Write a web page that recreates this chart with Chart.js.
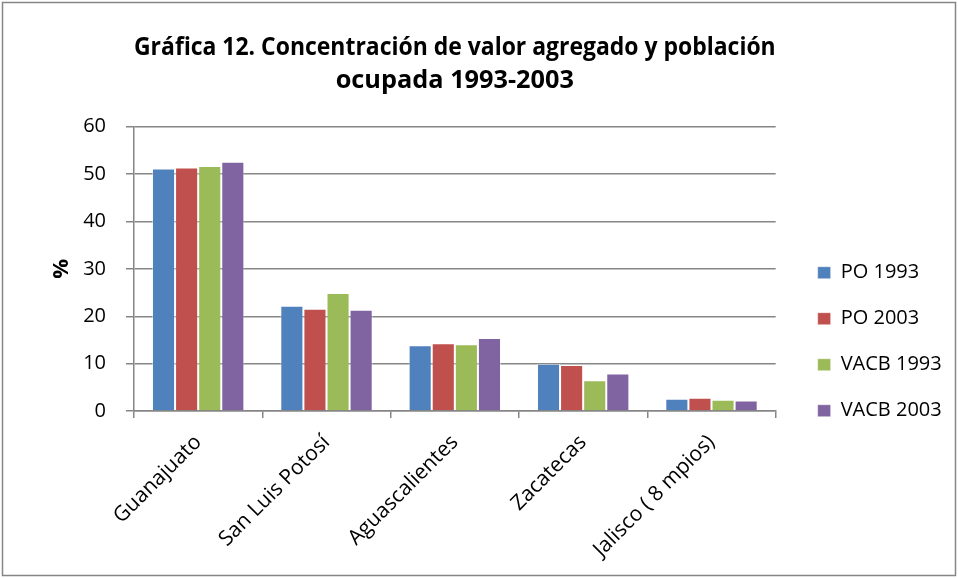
<!DOCTYPE html>
<html lang="es">
<head>
    <meta charset="UTF-8">
    <title>Gráfica 12</title>
    <script src="https://cdn.jsdelivr.net/npm/chart.js"></script>
    <style>
        body { margin: 0; background: #fff; }
        #wrap { width: 958px; height: 578px; }
    </style>
</head>
<body>
<div id="wrap"><canvas id="grafica" width="958" height="578"></canvas></div>
<script>
    const estados = ['Guanajuato', 'San Luis Potosí', 'Aguascalientes', 'Zacatecas', 'Jalisco ( 8 mpios)'];
    const po1993 = [51.2, 22.2, 13.9, 10.0, 2.6];
    const po2003 = [51.4, 21.6, 14.3, 9.7, 2.8];
    const vacb1993 = [51.7, 24.9, 14.1, 6.5, 2.4];
    const vacb2003 = [52.6, 21.4, 15.4, 7.9, 2.2];
    const ticksY = [0, 10, 20, 30, 40, 50, 60];

    const fuente = "'Open Sans', sans-serif";
    const gris = '#868686';

    // marco gris alrededor de toda la gráfica
    const marco = {
        id: 'marco',
        beforeDraw(chart) {
            const ctx = chart.ctx;
            ctx.save();
            ctx.fillStyle = '#fff';
            ctx.fillRect(0, 0, chart.width, chart.height);
            ctx.strokeStyle = gris;
            ctx.lineWidth = 1.5;
            ctx.strokeRect(2.5, 2.5, chart.width - 5, chart.height - 5);
            ctx.restore();
        }
    };

    const serie = (label, data, color) => ({
        label, data,
        backgroundColor: color,
        borderColor: 'rgba(255,255,255,0.45)',
        borderWidth: 1,
        categoryPercentage: 0.72,
        barPercentage: 1.0
    });

    new Chart(document.getElementById('grafica'), {
        type: 'bar',
        data: {
            labels: estados,
            datasets: [
                serie('PO 1993', po1993, '#4F81BD'),
                serie('PO 2003', po2003, '#C0504D'),
                serie('VACB 1993', vacb1993, '#9BBB59'),
                serie('VACB 2003', vacb2003, '#8064A2')
            ]
        },
        options: {
            responsive: false,
            devicePixelRatio: 1,
            animation: false,
            layout: { padding: { top: 0, right: 8, bottom: 0, left: 0 } },
            plugins: {
                title: {
                    display: true,
                    fullSize: false,
                    text: ['Gráfica 12. Concentración de valor agregado y población', 'ocupada 1993-2003'],
                    color: '#000',
                    font: { family: fuente, size: 25.3, weight: 'bold', lineHeight: 1.32 },
                    padding: { top: 31, bottom: 29 }
                },
                legend: {
                    position: 'right',
                    title: { display: true, text: '', font: { size: 10 }, padding: { top: 93.4, bottom: 0 } },
                    labels: {
                        color: '#000',
                        font: { family: fuente, size: 20 },
                        boxWidth: 13,
                        boxHeight: 12,
                        padding: 26
                    }
                },
                tooltip: { enabled: false }
            },
            scales: {
                x: {
                    grid: { display: true, drawOnChartArea: false, color: gris, lineWidth: 1.5, tickLength: 7, offset: true },
                    border: { color: gris, width: 1.5 },
                    ticks: {
                        color: '#000',
                        font: { family: fuente, size: 21 },
                        minRotation: 45,
                        maxRotation: 45,
                        padding: 12
                    },
                    afterFit(s) { s.height = 167; }
                },
                y: {
                    min: 0,
                    max: 60,
                    afterBuildTicks(s) { s.ticks = ticksY.map(v => ({ value: v })); },
                    grid: { color: gris, lineWidth: 1.5, tickLength: 8 },
                    border: { color: gris, width: 1.5 },
                    ticks: { color: '#000', font: { family: fuente, size: 20 }, padding: 20 },
                    title: {
                        display: true,
                        text: '%',
                        color: '#000',
                        font: { family: fuente, size: 22, weight: 'bold' },
                        padding: { top: 48.8, bottom: 0 }
                    },
                    afterFit(s) { s.width = 134; }
                },
                // eje vacío a la derecha para separar la leyenda del área de barras
                y2: {
                    position: 'right',
                    grid: { display: false },
                    border: { display: false },
                    ticks: { display: false },
                    afterFit(s) { s.width = 16; }
                }
            }
        },
        plugins: [marco]
    });
</script>
</body>
</html>
